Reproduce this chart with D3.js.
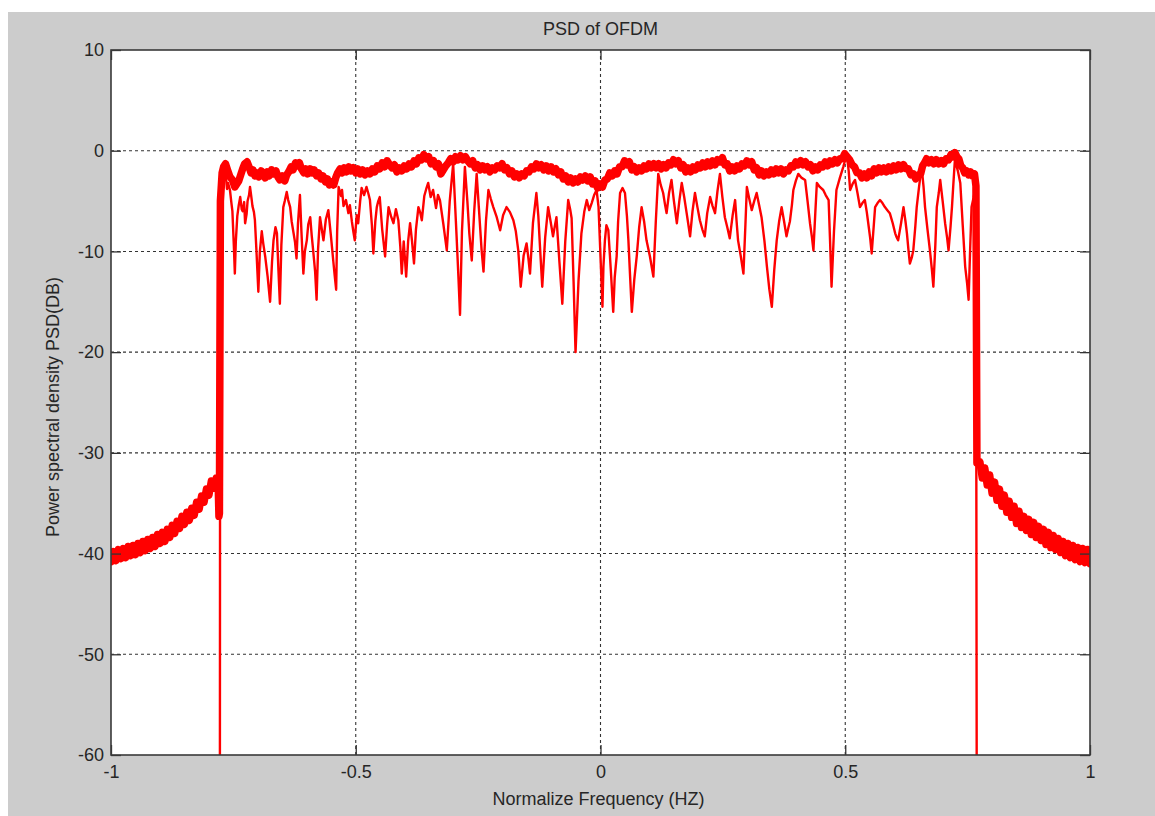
<!DOCTYPE html>
<html><head><meta charset="utf-8">
<script src="https://cdn.jsdelivr.net/npm/d3@7"></script>
<style>html,body{margin:0;padding:0;background:#fff;overflow:hidden}svg{display:block}</style>
</head><body><svg id="c" width="1155" height="816"></svg>
<script>
// ---------- data ----------
const titleText = "PSD of OFDM";
const xLabelText = "Normalize Frequency (HZ)";
const yLabelText = "Power spectral density PSD(DB)";
const xTicks = [-1, -0.5, 0, 0.5, 1];
const xTickLabels = ["-1", "-0.5", "0", "0.5", "1"];
const yTicks = [-60, -50, -40, -30, -20, -10, 0, 10];
const yTickLabels = ["-60", "-50", "-40", "-30", "-20", "-10", "0", "10"];

// thick (averaged) PSD – out-of-band left skirt
const thickLeft = [
[-1.000,-40.8],[-0.995,-39.8],[-0.990,-40.7],[-0.985,-39.6],[-0.980,-40.5],[-0.975,-39.5],[-0.970,-40.4],[-0.965,-39.3],
[-0.960,-40.2],[-0.955,-39.2],[-0.950,-40.1],[-0.945,-39.0],[-0.940,-39.9],[-0.935,-38.8],[-0.930,-39.7],[-0.925,-38.6],
[-0.920,-39.5],[-0.915,-38.4],[-0.910,-39.3],[-0.905,-38.1],[-0.900,-39.0],[-0.895,-37.9],[-0.890,-38.8],[-0.885,-37.6],
[-0.880,-38.4],[-0.875,-37.2],[-0.870,-38.0],[-0.865,-36.8],[-0.860,-37.5],[-0.855,-36.3],[-0.850,-37.1],[-0.845,-35.9],
[-0.840,-36.7],[-0.835,-35.5],[-0.830,-36.2],[-0.825,-34.9],[-0.820,-35.6],[-0.815,-34.3],[-0.810,-34.9],[-0.805,-33.6],
[-0.800,-34.2],[-0.795,-32.8],[-0.790,-33.5],[-0.785,-32.5],[-0.781,-33.2],[-0.7795,-36.3],[-0.7785,-36.0]
];
// thick PSD – in band
const thickBand = [
[-0.7775,-20.0],[-0.7765,-5.0],[-0.773,-2.2],[-0.770,-1.6],[-0.766,-1.3],[-0.762,-1.9],[-0.757,-2.6],[-0.752,-2.9],
[-0.747,-3.6],[-0.743,-3.3],[-0.739,-3.0],[-0.735,-2.4],[-0.731,-1.8],[-0.727,-1.3],[-0.722,-1.1],[-0.718,-1.6],
[-0.714,-2.2],[-0.710,-1.9],[-0.706,-2.5],[-0.702,-2.2],[-0.698,-2.6],[-0.693,-2.0],[-0.689,-2.4],[-0.685,-2.7],
[-0.681,-2.1],[-0.677,-2.5],[-0.672,-1.9],[-0.668,-2.3],[-0.663,-2.0],[-0.659,-2.6],[-0.655,-2.9],[-0.650,-2.5],
[-0.645,-3.0],[-0.641,-2.4],[-0.637,-2.1],[-0.632,-1.6],[-0.628,-1.9],[-0.623,-1.2],[-0.619,-1.5],[-0.615,-1.2],
[-0.611,-1.8],[-0.606,-2.2],[-0.602,-1.8],[-0.598,-2.3],[-0.593,-1.8],[-0.589,-2.2],[-0.585,-1.9],[-0.580,-2.5],
[-0.576,-2.2],[-0.571,-2.8],[-0.567,-2.5],[-0.562,-3.1],[-0.558,-2.8],[-0.554,-3.4],[-0.549,-3.1],[-0.545,-3.4],
[-0.541,-2.7],[-0.537,-2.2],[-0.532,-1.8],[-0.528,-2.2],[-0.524,-1.7],[-0.519,-2.1],[-0.514,-1.6],[-0.510,-2.0],
[-0.505,-1.7],[-0.500,-2.2],[-0.496,-1.8],[-0.491,-2.3],[-0.486,-1.9],[-0.481,-2.4],[-0.476,-2.0],[-0.471,-2.3],
[-0.466,-1.8],[-0.461,-2.1],[-0.456,-1.5],[-0.451,-1.8],[-0.446,-1.2],[-0.441,-1.6],[-0.436,-1.0],[-0.431,-1.4],
[-0.426,-1.7],[-0.421,-1.4],[-0.416,-2.1],[-0.411,-1.7],[-0.406,-2.0],[-0.401,-1.5],[-0.396,-1.8],[-0.391,-1.3],
[-0.386,-1.6],[-0.381,-1.0],[-0.376,-1.3],[-0.371,-0.7],[-0.366,-0.9],[-0.361,-0.4],[-0.356,-0.8],[-0.351,-0.6],
[-0.346,-1.3],[-0.341,-1.0],[-0.336,-1.6],[-0.331,-1.3],[-0.326,-2.3],[-0.321,-1.9],[-0.316,-1.5],[-0.311,-1.2],
[-0.306,-0.8],[-0.301,-1.1],[-0.296,-0.6],[-0.291,-0.9],[-0.286,-0.5],[-0.281,-0.9],[-0.276,-0.6],[-0.271,-1.0],
[-0.266,-1.3],[-0.261,-1.0],[-0.256,-1.7],[-0.251,-1.4],[-0.246,-1.9],[-0.241,-1.5],[-0.236,-1.9],[-0.231,-1.6],
[-0.226,-2.1],[-0.221,-1.7],[-0.216,-1.9],[-0.211,-1.5],[-0.206,-1.7],[-0.201,-1.3],[-0.196,-1.9],[-0.191,-1.7],
[-0.186,-2.3],[-0.181,-2.0],[-0.176,-2.6],[-0.171,-2.3],[-0.166,-2.7],[-0.161,-2.3],[-0.156,-2.5],[-0.151,-2.0],
[-0.146,-2.1],[-0.141,-1.6],[-0.136,-1.8],[-0.131,-1.3],[-0.126,-1.7],[-0.121,-1.4],[-0.116,-1.9],[-0.111,-1.5],
[-0.106,-2.0],[-0.101,-1.6],[-0.096,-2.1],[-0.091,-1.8],[-0.086,-2.4],[-0.081,-2.1],[-0.076,-2.8],[-0.071,-2.5],
[-0.066,-3.1],[-0.061,-2.7],[-0.056,-3.2],[-0.051,-2.8],[-0.046,-3.1],[-0.041,-2.6],[-0.036,-2.9],[-0.031,-2.5],
[-0.026,-3.0],[-0.021,-2.6],[-0.016,-3.3],[-0.011,-3.0],[-0.006,-3.7],[-0.001,-3.3],[0.004,-3.6],[0.009,-2.9],
[0.014,-2.8],[0.019,-2.2],[0.024,-2.5],[0.029,-2.0],[0.034,-2.3],[0.039,-1.6],[0.044,-1.6],[0.049,-1.0],
[0.054,-1.4],[0.059,-1.1],[0.064,-1.9],[0.069,-1.6],[0.074,-2.1],[0.079,-1.7],[0.084,-2.0],[0.089,-1.5],
[0.094,-1.8],[0.099,-1.3],[0.104,-1.7],[0.109,-1.3],[0.114,-1.7],[0.119,-1.3],[0.124,-1.8],[0.129,-1.4],
[0.134,-1.7],[0.139,-1.2],[0.144,-1.4],[0.149,-0.9],[0.154,-1.3],[0.159,-1.0],[0.164,-1.7],[0.169,-1.4],
[0.174,-2.1],[0.179,-1.7],[0.184,-2.1],[0.189,-1.6],[0.194,-1.9],[0.199,-1.4],[0.204,-1.7],[0.209,-1.2],
[0.214,-1.6],[0.219,-1.1],[0.224,-1.5],[0.229,-1.0],[0.234,-1.4],[0.239,-0.9],[0.244,-1.1],[0.249,-0.7],
[0.254,-1.4],[0.259,-1.3],[0.264,-2.0],[0.269,-1.6],[0.274,-2.0],[0.279,-1.5],[0.284,-1.8],[0.289,-1.3],
[0.294,-1.5],[0.299,-1.0],[0.304,-1.4],[0.309,-1.1],[0.314,-1.9],[0.319,-1.7],[0.324,-2.4],[0.329,-2.0],
[0.334,-2.5],[0.339,-2.1],[0.344,-2.4],[0.349,-1.9],[0.354,-2.3],[0.359,-1.8],[0.364,-2.2],[0.369,-1.8],
[0.374,-2.3],[0.379,-1.9],[0.384,-2.0],[0.389,-1.5],[0.394,-1.6],[0.399,-1.1],[0.404,-1.4],[0.409,-1.0],
[0.414,-1.4],[0.419,-1.1],[0.424,-1.6],[0.429,-1.4],[0.434,-2.0],[0.439,-1.6],[0.444,-1.9],[0.449,-1.4],
[0.454,-1.6],[0.459,-1.1],[0.464,-1.5],[0.469,-1.0],[0.474,-1.3],[0.479,-0.9],[0.484,-1.2],[0.489,-0.8],
[0.494,-0.8],[0.499,-0.3],[0.504,-0.6],[0.509,-0.9],[0.514,-1.4],[0.519,-1.6],[0.524,-2.2],[0.529,-2.2],
[0.534,-2.7],[0.539,-2.3],[0.544,-2.7],[0.549,-2.1],[0.554,-2.5],[0.559,-1.8],[0.564,-2.2],[0.569,-1.7],
[0.574,-2.1],[0.579,-1.7],[0.584,-2.1],[0.589,-1.6],[0.594,-2.0],[0.599,-1.5],[0.604,-1.9],[0.609,-1.4],
[0.614,-1.8],[0.619,-1.4],[0.624,-1.8],[0.629,-1.8],[0.634,-2.4],[0.639,-2.3],[0.644,-2.8],[0.649,-2.4],
[0.654,-2.3],[0.658,-1.5],[0.662,-1.2],[0.666,-0.8],[0.671,-1.2],[0.676,-0.9],[0.681,-1.3],[0.686,-0.9],
[0.691,-1.3],[0.696,-1.0],[0.701,-1.3],[0.706,-0.8],[0.711,-0.9],[0.716,-0.4],[0.720,-0.6],[0.724,-0.2],
[0.728,-0.6],[0.732,-0.8],[0.736,-1.5],[0.740,-1.7],[0.744,-2.2],[0.748,-2.0],[0.752,-2.4],[0.756,-2.1],
[0.760,-2.5],[0.764,-2.3],[0.767,-3.5]
];
// thick PSD – out-of-band right skirt
const thickRight = [
[0.769,-31.0],[0.775,-30.9],[0.780,-32.5],[0.785,-31.5],[0.790,-33.2],[0.795,-32.2],[0.800,-34.0],[0.805,-32.9],
[0.810,-34.7],[0.815,-33.6],[0.820,-35.3],[0.825,-34.2],[0.830,-35.9],[0.835,-34.8],[0.840,-36.4],[0.845,-35.3],
[0.850,-37.0],[0.855,-35.8],[0.860,-37.4],[0.865,-36.3],[0.870,-37.7],[0.875,-36.6],[0.880,-38.1],[0.885,-36.9],
[0.890,-38.4],[0.895,-37.3],[0.900,-38.7],[0.905,-37.6],[0.910,-39.1],[0.915,-37.9],[0.920,-39.4],[0.925,-38.2],
[0.930,-39.6],[0.935,-38.5],[0.940,-39.9],[0.945,-38.8],[0.950,-40.2],[0.955,-39.0],[0.960,-40.4],[0.965,-39.2],
[0.970,-40.6],[0.975,-39.4],[0.980,-40.8],[0.985,-39.5],[0.990,-40.9],[0.995,-39.6],[1.000,-41.0]
];

// thin (single realisation) PSD
const thinPoints = [
[-0.7775,-60],[-0.7772,-30],[-0.7768,-10],[-0.775,-5.5],[-0.771,-3.0],[-0.766,-2.2],[-0.763,-3.8],[-0.761,-3.2],[-0.757,-3.9],
[-0.754,-5.2],[-0.752,-6.0],[-0.749,-9.5],[-0.747,-12.2],[-0.745,-9.0],[-0.742,-6.5],[-0.739,-5.4],[-0.736,-4.6],[-0.733,-5.8],[-0.731,-6.0],
[-0.728,-5.1],[-0.726,-7.2],[-0.723,-6.3],[-0.721,-5.0],[-0.718,-4.4],[-0.716,-3.6],[-0.713,-4.7],[-0.711,-5.5],[-0.708,-6.1],
[-0.706,-6.9],[-0.703,-9.8],[-0.699,-14.0],[-0.696,-10.1],[-0.692,-8.0],[-0.689,-9.2],[-0.685,-10.5],[-0.680,-12.5],[-0.675,-15.0],
[-0.671,-11.0],[-0.668,-8.9],[-0.664,-7.6],[-0.661,-8.2],[-0.658,-11.8],[-0.655,-15.2],[-0.652,-9.4],[-0.648,-5.6],[-0.645,-5.0],
[-0.641,-4.1],[-0.638,-4.9],[-0.634,-5.6],[-0.631,-7.0],[-0.627,-8.2],[-0.624,-9.1],[-0.621,-10.7],[-0.618,-7.2],[-0.614,-4.4],
[-0.611,-8.0],[-0.607,-12.2],[-0.604,-10.0],[-0.600,-8.9],[-0.597,-7.3],[-0.593,-6.6],[-0.590,-8.4],[-0.587,-9.9],[-0.583,-12.0],
[-0.580,-14.8],[-0.577,-9.8],[-0.573,-6.6],[-0.570,-7.6],[-0.566,-8.9],[-0.561,-6.8],[-0.556,-5.9],[-0.551,-8.3],[-0.546,-10.9],
[-0.543,-12.4],[-0.540,-13.8],[-0.538,-8.0],[-0.535,-3.6],[-0.530,-4.5],[-0.528,-3.9],[-0.525,-5.5],[-0.520,-4.9],[-0.515,-6.2],
[-0.512,-5.4],[-0.508,-7.0],[-0.505,-8.0],[-0.502,-8.9],[-0.498,-6.4],[-0.495,-7.2],[-0.491,-5.0],[-0.488,-3.7],[-0.483,-4.4],
[-0.478,-3.6],[-0.474,-4.3],[-0.471,-4.9],[-0.467,-7.4],[-0.464,-10.2],[-0.460,-7.0],[-0.457,-5.6],[-0.454,-5.0],[-0.451,-4.6],
[-0.446,-7.8],[-0.440,-10.5],[-0.436,-7.4],[-0.433,-5.6],[-0.428,-6.5],[-0.423,-7.2],[-0.418,-5.8],[-0.413,-6.9],[-0.409,-9.5],
[-0.406,-12.2],[-0.402,-9.0],[-0.400,-10.4],[-0.397,-12.5],[-0.393,-9.0],[-0.389,-7.2],[-0.385,-9.0],[-0.381,-11.2],[-0.377,-7.8],
[-0.372,-5.6],[-0.368,-6.2],[-0.365,-6.9],[-0.360,-4.5],[-0.356,-3.8],[-0.352,-3.2],[-0.347,-4.6],[-0.342,-3.9],[-0.336,-5.7],
[-0.332,-4.4],[-0.328,-4.9],[-0.321,-7.3],[-0.314,-9.9],[-0.308,-5.0],[-0.301,-1.3],[-0.294,-8.5],[-0.290,-12.8],[-0.287,-16.3],
[-0.283,-8.0],[-0.277,-1.6],[-0.272,-5.0],[-0.268,-8.2],[-0.263,-10.9],[-0.258,-6.0],[-0.253,-2.3],[-0.247,-6.8],[-0.243,-9.8],
[-0.239,-12.0],[-0.234,-7.0],[-0.229,-3.9],[-0.224,-4.8],[-0.219,-5.6],[-0.212,-6.6],[-0.205,-7.9],[-0.199,-6.4],[-0.192,-5.6],
[-0.185,-6.1],[-0.178,-6.9],[-0.173,-8.0],[-0.168,-9.9],[-0.163,-13.5],[-0.157,-10.4],[-0.151,-9.2],[-0.147,-10.8],[-0.144,-12.2],
[-0.138,-7.2],[-0.131,-4.2],[-0.127,-6.5],[-0.124,-9.2],[-0.119,-13.5],[-0.113,-8.6],[-0.107,-5.6],[-0.102,-7.0],[-0.097,-8.5],
[-0.093,-7.4],[-0.090,-6.6],[-0.084,-11.0],[-0.078,-15.2],[-0.072,-9.0],[-0.066,-4.9],[-0.062,-5.8],[-0.059,-6.7],[-0.055,-13.0],
[-0.051,-20.0],[-0.045,-13.0],[-0.039,-8.2],[-0.033,-6.0],[-0.028,-4.9],[-0.023,-5.9],[-0.018,-5.2],[-0.013,-4.4],[-0.008,-3.9],
[-0.004,-5.6],[0.000,-10.5],[0.004,-15.5],[0.006,-11.5],[0.009,-8.9],[0.012,-7.4],[0.016,-7.9],[0.021,-11.8],[0.026,-16.0],
[0.029,-12.6],[0.033,-10.5],[0.036,-7.0],[0.040,-4.2],[0.045,-3.7],[0.050,-4.2],[0.054,-6.5],[0.057,-8.9],[0.060,-12.0],
[0.064,-16.0],[0.069,-12.8],[0.074,-10.5],[0.079,-7.6],[0.084,-5.6],[0.089,-7.0],[0.094,-8.9],[0.101,-10.5],[0.108,-12.5],
[0.113,-7.0],[0.118,-2.3],[0.123,-3.4],[0.128,-4.2],[0.132,-5.4],[0.135,-6.2],[0.140,-4.2],[0.145,-2.9],[0.150,-5.0],
[0.156,-7.2],[0.161,-5.0],[0.166,-3.2],[0.171,-4.6],[0.176,-6.2],[0.180,-7.5],[0.183,-8.5],[0.188,-6.0],[0.193,-4.2],
[0.198,-5.6],[0.203,-6.9],[0.208,-7.8],[0.213,-8.5],[0.218,-6.2],[0.224,-4.6],[0.229,-5.5],[0.234,-6.2],[0.239,-4.0],
[0.244,-2.3],[0.249,-4.6],[0.254,-6.6],[0.259,-7.6],[0.264,-8.7],[0.270,-6.4],[0.275,-4.9],[0.278,-7.0],[0.281,-8.9],
[0.287,-10.6],[0.292,-12.2],[0.296,-7.4],[0.299,-3.6],[0.304,-4.8],[0.309,-5.9],[0.314,-5.0],[0.319,-4.2],[0.324,-5.4],
[0.329,-6.6],[0.335,-9.0],[0.340,-11.5],[0.345,-13.8],[0.350,-15.5],[0.355,-11.8],[0.360,-8.9],[0.365,-7.0],[0.370,-5.6],
[0.375,-7.0],[0.380,-8.5],[0.384,-7.6],[0.387,-7.0],[0.391,-5.4],[0.394,-3.9],[0.399,-3.0],[0.404,-2.3],[0.411,-2.7],
[0.418,-2.9],[0.423,-5.0],[0.428,-7.2],[0.432,-8.6],[0.435,-9.9],[0.439,-6.0],[0.442,-3.2],[0.448,-3.6],[0.455,-3.9],
[0.460,-4.4],[0.466,-4.9],[0.469,-9.0],[0.472,-13.5],[0.477,-8.0],[0.482,-3.9],[0.489,-2.7],[0.496,-1.6],[0.500,-0.9],
[0.503,-0.3],[0.507,-2.0],[0.510,-3.9],[0.515,-3.3],[0.520,-2.9],[0.525,-4.2],[0.530,-5.6],[0.535,-5.2],[0.540,-4.9],
[0.544,-6.1],[0.547,-7.2],[0.551,-8.7],[0.554,-10.2],[0.558,-7.6],[0.561,-5.6],[0.566,-5.2],[0.571,-4.9],[0.576,-5.2],
[0.581,-5.6],[0.586,-5.9],[0.591,-6.2],[0.597,-7.2],[0.602,-8.2],[0.605,-8.6],[0.608,-8.9],[0.614,-7.2],[0.619,-5.6],
[0.623,-7.0],[0.626,-8.2],[0.629,-9.8],[0.632,-11.2],[0.636,-10.6],[0.639,-9.9],[0.643,-7.6],[0.646,-5.6],[0.651,-3.5],
[0.656,-1.6],[0.660,-3.6],[0.663,-5.6],[0.668,-7.8],[0.673,-9.9],[0.677,-11.8],[0.680,-13.5],[0.684,-9.4],[0.687,-5.6],
[0.691,-4.2],[0.694,-2.9],[0.699,-5.0],[0.704,-7.2],[0.708,-8.6],[0.711,-9.9],[0.715,-7.6],[0.718,-5.6],[0.721,-3.2],
[0.724,-0.9],[0.730,-2.0],[0.735,-3.2],[0.740,-7.4],[0.745,-11.5],[0.749,-13.2],[0.752,-14.8],[0.755,-10.0],[0.758,-5.6],
[0.762,-4.7],[0.765,-3.9],[0.7675,-20],[0.7685,-60]
];

// ---------- drawing ----------
const W = 1155, H = 816;
const M = {left: 111, right: 1090, top: 50, bottom: 755};
const FONT = "'Liberation Sans', Arial, Helvetica, sans-serif";
const TXT = "#262626";

const svg = d3.select("#c");
svg.append("rect").attr("x", 8).attr("y", 12).attr("width", W - 8).attr("height", H - 12).attr("fill", "#cccccc");

const x = d3.scaleLinear().domain([-1, 1]).range([M.left, M.right]);
const y = d3.scaleLinear().domain([-60, 10]).range([M.bottom, M.top]);

svg.append("rect").attr("x", M.left).attr("y", M.top)
  .attr("width", M.right - M.left).attr("height", M.bottom - M.top).attr("fill", "#ffffff");

// grid
const grid = svg.append("g").attr("stroke", "#333").attr("stroke-width", 1.1).attr("stroke-dasharray", "3,3");
grid.selectAll("line.v").data(xTicks.filter(t => t > -1 && t < 1)).enter().append("line")
  .attr("x1", d => x(d)).attr("x2", d => x(d)).attr("y1", M.top).attr("y2", M.bottom);
grid.selectAll("line.h").data(yTicks.filter(t => t > -60 && t < 10)).enter().append("line")
  .attr("y1", d => y(d)).attr("y2", d => y(d)).attr("x1", M.left).attr("x2", M.right);

// data lines
svg.append("clipPath").attr("id", "clip").append("rect")
  .attr("x", M.left).attr("y", M.top).attr("width", M.right - M.left).attr("height", M.bottom - M.top);
const line = d3.line().x(d => x(d[0])).y(d => y(d[1]));
const plot = svg.append("g").attr("clip-path", "url(#clip)");
const thickAll = thickLeft.concat(thickBand, thickRight);
plot.append("path").datum(thickAll).attr("d", line).attr("fill", "none")
  .attr("stroke", "#ff0000").attr("stroke-width", 7.5).attr("stroke-linejoin", "round").attr("stroke-linecap", "round");
plot.append("path").datum(thinPoints).attr("d", line).attr("fill", "none")
  .attr("stroke", "#ff0000").attr("stroke-width", 2.4).attr("stroke-linejoin", "round");

// axes
function styleAxis(g) {
  g.select(".domain").remove();
  g.selectAll(".tick line").attr("stroke", "#333").attr("stroke-width", 1.3);
  g.selectAll(".tick text").attr("fill", TXT).style("font-family", FONT).style("font-size", "18px");
}
const fmtX = d => xTickLabels[xTicks.indexOf(d)];
const fmtY = d => yTickLabels[yTicks.indexOf(d)];
svg.append("g").attr("transform", `translate(0,${M.bottom})`)
  .call(d3.axisBottom(x).tickValues(xTicks).tickFormat(fmtX).tickSizeInner(-10).tickSizeOuter(0).tickPadding(10))
  .call(styleAxis);
svg.append("g").attr("transform", `translate(0,${M.top})`)
  .call(d3.axisTop(x).tickValues(xTicks).tickFormat("").tickSizeInner(-10).tickSizeOuter(0))
  .call(styleAxis);
svg.append("g").attr("transform", `translate(${M.left},0)`)
  .call(d3.axisLeft(y).tickValues(yTicks).tickFormat(fmtY).tickSizeInner(-10).tickSizeOuter(0).tickPadding(7))
  .call(styleAxis);
svg.append("g").attr("transform", `translate(${M.right},0)`)
  .call(d3.axisRight(y).tickValues(yTicks).tickFormat("").tickSizeInner(-10).tickSizeOuter(0))
  .call(styleAxis);

// box
svg.append("rect").attr("x", M.left).attr("y", M.top)
  .attr("width", M.right - M.left).attr("height", M.bottom - M.top)
  .attr("fill", "none").attr("stroke", "#3a3a3a").attr("stroke-width", 1.6);

// titles
svg.append("text").attr("x", (M.left + M.right) / 2).attr("y", 35).attr("text-anchor", "middle")
  .attr("fill", TXT).style("font-family", FONT).style("font-size", "18px").text(titleText);
svg.append("text").attr("x", (M.left + M.right) / 2 - 2).attr("y", 805).attr("text-anchor", "middle")
  .attr("fill", TXT).style("font-family", FONT).style("font-size", "18px").text(xLabelText);
svg.append("text").attr("transform", "translate(59,407) rotate(-90)").attr("text-anchor", "middle")
  .attr("fill", TXT).style("font-family", FONT).style("font-size", "18px").text(yLabelText);
</script>
</body></html>
